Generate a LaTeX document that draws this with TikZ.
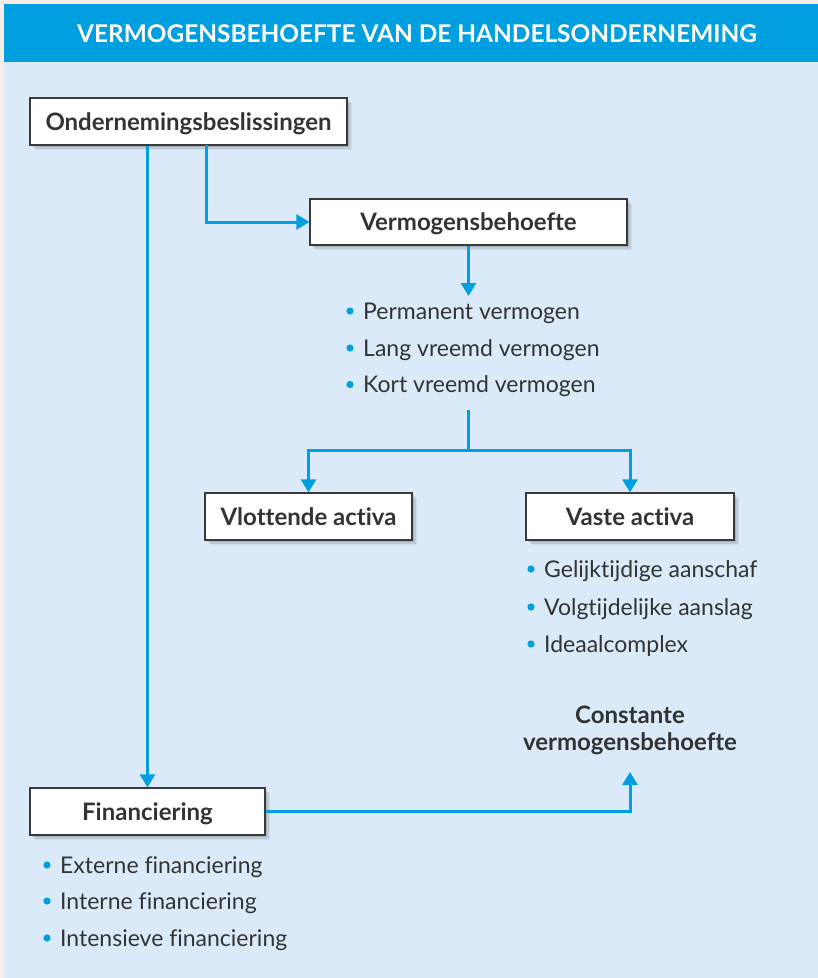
\documentclass[tikz,border=0pt]{standalone}
\usepackage{fontspec}
\setmainfont{Lato}[Ligatures=CommonOff]
\usetikzlibrary{arrows.meta,calc}
\definecolor{beige}{HTML}{F7ECE6}
\definecolor{hblue}{HTML}{009FE0}
\definecolor{panel}{HTML}{DAEAF8}
\definecolor{ink}{HTML}{333333}
\definecolor{frame}{HTML}{3A3A3A}
\tikzset{
  shadowed/.style={
    preaction={fill=black,opacity=.06,transform canvas={xshift=5pt,yshift=-5pt}},
    preaction={fill=black,opacity=.08,transform canvas={xshift=3.5pt,yshift=-3.5pt}},
    preaction={fill=black,opacity=.12,transform canvas={xshift=2pt,yshift=-2pt}}},
  boxlabel/.style={text=ink,font=\bfseries\fontsize{24}{28}\selectfont},
  box/.style={boxlabel,shadowed,draw=frame,line width=1.3pt,fill=white,inner sep=0pt,
    text height=17pt,text depth=0pt},
  item/.style={anchor=base west,inner sep=0pt,text=ink,font=\fontsize{23}{27}\selectfont},
  bdot/.style={fill=hblue},
  conn/.style={draw=hblue,line width=3pt},
  arr/.style={conn,-{Triangle[length=13pt,width=15pt]}},
}
\begin{document}
\begin{tikzpicture}[x=1pt,y=-1pt]
\useasboundingbox (0,0) rectangle (818,978);
\fill[beige] (0,0) rectangle (818,978);
\fill[panel] (4,4) rectangle (818,978);
\fill[hblue] (4,4) rectangle (818,62);
\node[anchor=base,inner sep=0pt,text=white,font=\bfseries\fontsize{24.4}{28}\selectfont] (title) at (417,42.5) {VERMOGENSBEHOEFTE VAN DE HANDELSONDERNEMING};

% boxes
\node[box,minimum width=317pt,minimum height=47pt] (ond) at (188.5,121.5) {Ondernemingsbeslissingen};
\node[box,minimum width=317pt,minimum height=46pt] (verm) at (468.5,222) {Vermogensbehoefte};
\node[box,minimum width=207pt,minimum height=47pt] (vlot) at (308.5,516.5) {Vlottende activa};
\node[box,minimum width=208pt,minimum height=47pt] (vaste) at (630,516.5) {Vaste activa};
\node[box,minimum width=235pt,minimum height=47pt] (fin) at (147.5,811.5) {Financiering};

% list under Vermogensbehoefte
\node[item] (v1) at (363,319) {Permanent vermogen};
\node[item] (v2) at (363,356) {Lang vreemd vermogen};
\node[item] (v3) at (363,392.5) {Kort vreemd vermogen};
\fill[bdot] (350,311) circle (3.6);
\fill[bdot] (350,348) circle (3.6);
\fill[bdot] (350,384.5) circle (3.6);

% list under Vaste activa
\node[item] (a1) at (544,577) {Gelijktijdige aanschaf};
\node[item] (a2) at (544,615) {Volgtijdelijke aanslag};
\node[item] (a3) at (544,652) {Ideaalcomplex};
\fill[bdot] (531,569) circle (3.6);
\fill[bdot] (531,607) circle (3.6);
\fill[bdot] (531,644) circle (3.6);

% list under Financiering
\node[item] (f1) at (60,873) {Externe financiering};
\node[item] (f2) at (60,909) {Interne financiering};
\node[item] (f3) at (60,946) {Intensieve financiering};
\fill[bdot] (47,865) circle (3.6);
\fill[bdot] (47,901) circle (3.6);
\fill[bdot] (47,938) circle (3.6);

% Constante vermogensbehoefte
\node[boxlabel,anchor=base,inner sep=0pt] (c1) at (630,723) {Constante};
\node[boxlabel,anchor=base,inner sep=0pt] (c2) at (630,750) {vermogensbehoefte};

% connectors
\coordinate (o2) at (206,145);
\draw[arr] (o2) |- (verm.west);
\draw[arr] (fin.north |- ond.south) -- (fin.north);
\coordinate (vtip) at (468.5,296);
\draw[arr] (verm.south) -- (vtip);
\coordinate (vbot) at (468.5,410);
\coordinate (split) at (468.5,450);
\draw[conn] (vbot) -- (split);
\draw[arr] (split) -| (vlot.north);
\draw[arr] (split) -| (vaste.north);
\coordinate (ctip) at (630,772);
\draw[arr] (fin.east) -| (ctip);
\end{tikzpicture}
\end{document}
